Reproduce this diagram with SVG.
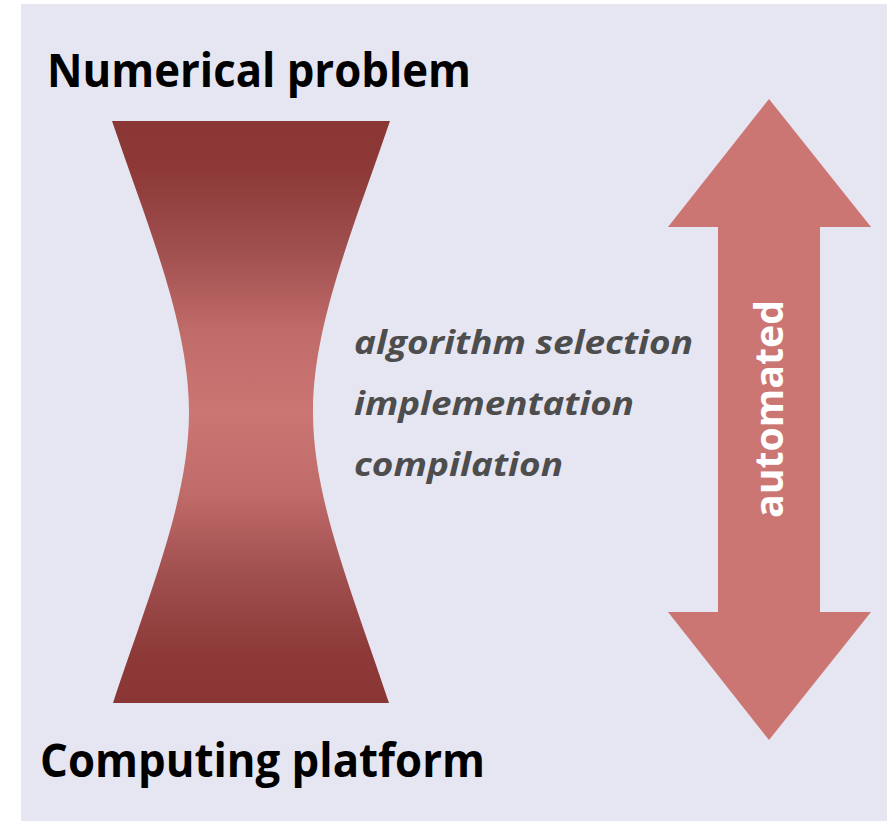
<svg xmlns="http://www.w3.org/2000/svg" width="887" height="821" viewBox="0 0 887 821">
<defs>
<linearGradient id="hg" x1="0" y1="121" x2="0" y2="703" gradientUnits="userSpaceOnUse">
<stop offset="0" stop-color="#8A3634"/>
<stop offset="0.08" stop-color="#8C3937"/>
<stop offset="0.22" stop-color="#A04F4F"/>
<stop offset="0.36" stop-color="#BF6B69"/>
<stop offset="0.5" stop-color="#CB7673"/>
<stop offset="0.64" stop-color="#BF6B69"/>
<stop offset="0.78" stop-color="#A04F4F"/>
<stop offset="0.92" stop-color="#8C3937"/>
<stop offset="1" stop-color="#8A3634"/>
</linearGradient>
<style>
.title{font-family:"Open Sans","Liberation Sans",sans-serif;font-weight:bold;font-size:46px;fill:#000}
.step{font-family:"Open Sans","Liberation Sans",sans-serif;font-weight:bold;font-style:italic;font-size:33px;fill:#4D4D4D}
.auto{font-family:"Open Sans","Liberation Sans",sans-serif;font-weight:bold;font-size:40px;fill:#fff}
</style>
</defs>
<rect x="21" y="4" width="866" height="817" fill="#E6E6F2"/>
<g id="numerical-problem">
<text class="title" x="47" y="87" textLength="424" lengthAdjust="spacingAndGlyphs">Numerical problem</text>
</g>
<g id="hourglass">
<path d="M112,121 L390,121 C352,232 313,325 313,412 C313,499 352,592 389,703 L113,703 C150,592 189,499 189,412 C189,325 150,232 112,121 Z" fill="url(#hg)"/>
</g>
<g id="steps">
<text class="step" x="354" y="354" textLength="339" lengthAdjust="spacingAndGlyphs">algorithm selection</text>
<text class="step" x="354" y="415" textLength="280" lengthAdjust="spacingAndGlyphs">implementation</text>
<text class="step" x="354" y="476" textLength="209" lengthAdjust="spacingAndGlyphs">compilation</text>
</g>
<g id="automated-arrow">
<polygon points="769,99 871,227 820,227 820,612 871,612 769,740 668,612 718,612 718,227 668,227" fill="#CC7673"/>
<text class="auto" transform="translate(783,518) rotate(-90)" x="0" y="0" textLength="218" lengthAdjust="spacingAndGlyphs">automated</text>
</g>
<g id="computing-platform">
<text class="title" x="40" y="777" textLength="445" lengthAdjust="spacingAndGlyphs">Computing platform</text>
</g>
<g id="connectors"></g>
</svg>
